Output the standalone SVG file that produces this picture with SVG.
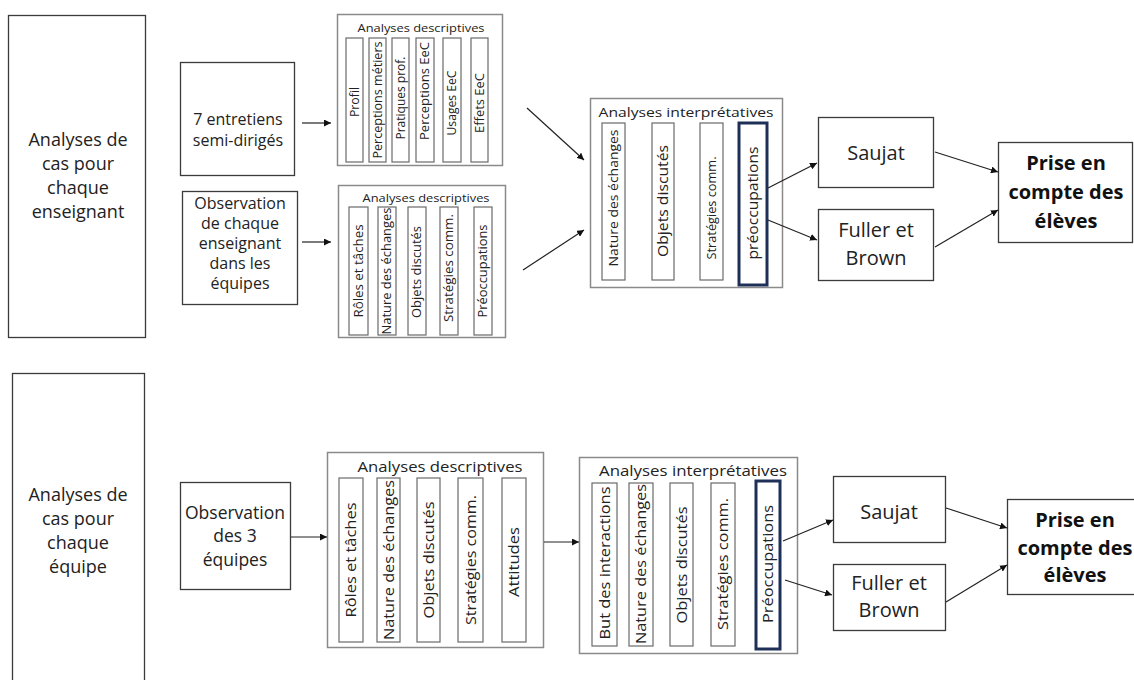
<svg xmlns="http://www.w3.org/2000/svg" width="1134" height="680" viewBox="0 0 1134 680">
<defs>
<marker id="arr" viewBox="0 0 10 10" refX="10" refY="5" markerWidth="7" markerHeight="7" markerUnits="userSpaceOnUse" orient="auto">
<path d="M0,0 L10,5 L0,10 z" fill="#111"/>
</marker>
<style>
text{font-family:"Open Sans","Noto Sans",sans-serif;fill:#222}
.node{fill:#fff;stroke:#3a3a3a;stroke-width:1.3}
.cont{fill:#fff;stroke:#8a8a8a;stroke-width:1.5}
.col{fill:#fff;stroke:#6a6a6a;stroke-width:1.2}
.hl{fill:#fff;stroke:#1f3058;stroke-width:3}
.big{font-size:18px;text-anchor:middle}
.mid{font-size:16px;text-anchor:middle}
.obs{font-size:17.5px;text-anchor:middle}
.box{font-size:20px;text-anchor:middle}
.bold{font-size:20px;font-weight:bold;text-anchor:middle;fill:#111}
.t{text-anchor:middle}
.c{text-anchor:middle}
.conn line{stroke:#222;stroke-width:1.2;marker-end:url(#arr)}
</style>
</defs>

<!-- TOP SECTION -->
<g id="case-enseignant">
<rect class="node" x="8.5" y="15.5" width="137" height="322"/>
<text class="big" x="78" y="146">Analyses de</text>
<text class="big" x="78" y="170">cas pour</text>
<text class="big" x="78" y="194">chaque</text>
<text class="big" x="78" y="218">enseignant</text>
</g>

<g id="entretiens">
<rect class="node" x="180.5" y="62.5" width="114" height="113"/>
<text class="mid" x="238" y="125">7 entretiens</text>
<text class="mid" x="238" y="146">semi-dirigés</text>
</g>

<g id="observation-enseignant">
<rect class="node" x="182.5" y="191.5" width="115" height="113"/>
<text class="mid" x="240" y="209">Observation</text>
<text class="mid" x="240" y="229">de chaque</text>
<text class="mid" x="240" y="249">enseignant</text>
<text class="mid" x="240" y="269">dans les</text>
<text class="mid" x="240" y="289">équipes</text>
</g>

<g id="desc-top-1">
<rect class="cont" x="337.5" y="14.5" width="165" height="151"/>
<text class="t" x="421" y="32" font-size="11" textLength="127" lengthAdjust="spacingAndGlyphs">Analyses descriptives</text>
<rect class="col" x="346" y="38" width="17" height="124"/>
<rect class="col" x="369" y="38" width="17" height="124"/>
<rect class="col" x="392" y="38" width="17" height="124"/>
<rect class="col" x="416" y="38" width="18" height="124"/>
<rect class="col" x="443" y="38" width="18" height="124"/>
<rect class="col" x="471" y="38" width="17" height="124"/>
<g font-size="12">
<text class="c" transform="translate(354.5,102) rotate(-90)" dy="0.35em" textLength="30" lengthAdjust="spacingAndGlyphs">Profil</text>
<text class="c" transform="translate(377.5,100) rotate(-90)" dy="0.35em" textLength="117" lengthAdjust="spacingAndGlyphs">Perceptions métiers</text>
<text class="c" transform="translate(400.5,98) rotate(-90)" dy="0.35em" textLength="83" lengthAdjust="spacingAndGlyphs">Pratiques prof.</text>
<text class="c" transform="translate(425,91) rotate(-90)" dy="0.35em" textLength="98" lengthAdjust="spacingAndGlyphs">Perceptions EeC</text>
<text class="c" transform="translate(452,103) rotate(-90)" dy="0.35em" textLength="65" lengthAdjust="spacingAndGlyphs">Usages EeC</text>
<text class="c" transform="translate(479.5,103) rotate(-90)" dy="0.35em" textLength="60" lengthAdjust="spacingAndGlyphs">Effets EeC</text>
</g>
</g>

<g id="desc-top-2">
<rect class="cont" x="338.5" y="185.5" width="167" height="152"/>
<text class="t" x="426" y="202" font-size="11" textLength="127" lengthAdjust="spacingAndGlyphs">Analyses descriptives</text>
<rect class="col" x="349" y="207" width="19" height="128"/>
<rect class="col" x="378" y="207" width="18" height="128"/>
<rect class="col" x="408" y="207" width="18" height="128"/>
<rect class="col" x="440" y="207" width="18" height="128"/>
<rect class="col" x="474" y="207" width="18" height="128"/>
<g font-size="12">
<text class="c" transform="translate(358.5,271) rotate(-90)" dy="0.35em" textLength="93" lengthAdjust="spacingAndGlyphs">Rôles et tâches</text>
<text class="c" transform="translate(387,271) rotate(-90)" dy="0.35em" textLength="127" lengthAdjust="spacingAndGlyphs">Nature des échanges</text>
<text class="c" transform="translate(417,272) rotate(-90)" dy="0.35em" textLength="92" lengthAdjust="spacingAndGlyphs">Objets discutés</text>
<text class="c" transform="translate(449,268) rotate(-90)" dy="0.35em" textLength="108" lengthAdjust="spacingAndGlyphs">Stratégies comm.</text>
<text class="c" transform="translate(483,271) rotate(-90)" dy="0.35em" textLength="93" lengthAdjust="spacingAndGlyphs">Préoccupations</text>
</g>
</g>

<g id="interp-top">
<rect class="cont" x="590.5" y="98.5" width="192" height="189"/>
<text class="t" x="686" y="117" font-size="13.5" textLength="175" lengthAdjust="spacingAndGlyphs">Analyses interprétatives</text>
<rect class="col" x="602" y="123" width="23" height="157"/>
<rect class="col" x="652" y="123" width="22" height="157"/>
<rect class="col" x="700" y="123" width="23" height="157"/>
<rect class="hl" x="739" y="123" width="28" height="162"/>
<text class="c" transform="translate(613.5,198) rotate(-90)" dy="0.35em" font-size="13" textLength="137" lengthAdjust="spacingAndGlyphs">Nature des échanges</text>
<text class="c" transform="translate(663,201) rotate(-90)" dy="0.35em" font-size="14.5" textLength="112" lengthAdjust="spacingAndGlyphs">Objets discutés</text>
<text class="c" transform="translate(711.5,208) rotate(-90)" dy="0.35em" font-size="12" textLength="103" lengthAdjust="spacingAndGlyphs">Stratégies comm.</text>
<text class="c" transform="translate(753,203) rotate(-90)" dy="0.35em" font-size="14.5" textLength="113" lengthAdjust="spacingAndGlyphs">préoccupations</text>
</g>

<g id="saujat-top">
<rect class="node" x="818.5" y="117.5" width="115" height="70"/>
<text class="box" x="876" y="160">Saujat</text>
</g>

<g id="fuller-top">
<rect class="node" x="818.5" y="209.5" width="115" height="71"/>
<text class="box" x="876" y="237">Fuller et</text>
<text class="box" x="876" y="265">Brown</text>
</g>

<g id="prise-top">
<rect class="node" x="998.5" y="142.5" width="134" height="100"/>
<text class="bold" x="1066" y="170">Prise en</text>
<text class="bold" x="1066" y="199">compte des</text>
<text class="bold" x="1066" y="228">élèves</text>
</g>

<!-- BOTTOM SECTION -->
<g id="case-equipe">
<rect class="node" x="12.5" y="373.5" width="132" height="320"/>
<text class="big" x="78" y="501">Analyses de</text>
<text class="big" x="78" y="525">cas pour</text>
<text class="big" x="78" y="549">chaque</text>
<text class="big" x="78" y="573">équipe</text>
</g>

<g id="observation-equipes">
<rect class="node" x="180.5" y="482.5" width="110" height="107"/>
<text class="obs" x="235" y="519">Observation</text>
<text class="obs" x="235" y="542">des 3</text>
<text class="obs" x="235" y="566">équipes</text>
</g>

<g id="desc-bottom">
<rect class="cont" x="327.5" y="452.5" width="216" height="195"/>
<text class="t" x="440" y="472" font-size="15" textLength="165" lengthAdjust="spacingAndGlyphs">Analyses descriptives</text>
<rect class="col" x="339" y="478" width="24" height="164"/>
<rect class="col" x="377" y="478" width="23" height="164"/>
<rect class="col" x="417" y="478" width="23" height="164"/>
<rect class="col" x="458" y="478" width="25" height="164"/>
<rect class="col" x="502" y="478" width="24" height="164"/>
<g font-size="14.5">
<text class="c" transform="translate(351,560) rotate(-90)" dy="0.35em" textLength="115" lengthAdjust="spacingAndGlyphs">Rôles et tâches</text>
<text class="c" transform="translate(388.5,560) rotate(-90)" dy="0.35em" textLength="160" lengthAdjust="spacingAndGlyphs">Nature des échanges</text>
<text class="c" transform="translate(428.5,560) rotate(-90)" dy="0.35em" textLength="117" lengthAdjust="spacingAndGlyphs">Objets discutés</text>
<text class="c" transform="translate(470.5,560) rotate(-90)" dy="0.35em" textLength="130" lengthAdjust="spacingAndGlyphs">Stratégies comm.</text>
<text class="c" transform="translate(514,562) rotate(-90)" dy="0.35em" textLength="70" lengthAdjust="spacingAndGlyphs">Attitudes</text>
</g>
</g>

<g id="interp-bottom">
<rect class="cont" x="579.5" y="457.5" width="218" height="196"/>
<text class="t" x="693" y="476" font-size="15" textLength="188" lengthAdjust="spacingAndGlyphs">Analyses interprétatives</text>
<rect class="col" x="592" y="483" width="25" height="163"/>
<rect class="col" x="629" y="483" width="24" height="163"/>
<rect class="col" x="670" y="483" width="23" height="163"/>
<rect class="col" x="711" y="483" width="24" height="163"/>
<rect class="hl" x="756" y="481" width="24" height="168"/>
<g font-size="14.5">
<text class="c" transform="translate(604.5,563) rotate(-90)" dy="0.35em" textLength="153" lengthAdjust="spacingAndGlyphs">But des interactions</text>
<text class="c" transform="translate(641,564) rotate(-90)" dy="0.35em" textLength="160" lengthAdjust="spacingAndGlyphs">Nature des échanges</text>
<text class="c" transform="translate(681.5,565) rotate(-90)" dy="0.35em" textLength="117" lengthAdjust="spacingAndGlyphs">Objets discutés</text>
<text class="c" transform="translate(723,564) rotate(-90)" dy="0.35em" textLength="132" lengthAdjust="spacingAndGlyphs">Stratégies comm.</text>
<text class="c" transform="translate(768,564) rotate(-90)" dy="0.35em" textLength="118" lengthAdjust="spacingAndGlyphs">Préoccupations</text>
</g>
</g>

<g id="saujat-bottom">
<rect class="node" x="833.5" y="476.5" width="112" height="66"/>
<text class="box" x="889" y="519">Saujat</text>
</g>

<g id="fuller-bottom">
<rect class="node" x="833.5" y="564.5" width="112" height="66"/>
<text class="box" x="889" y="590">Fuller et</text>
<text class="box" x="889" y="617">Brown</text>
</g>

<g id="prise-bottom">
<rect class="node" x="1007.5" y="499.5" width="128" height="95"/>
<text class="bold" x="1075" y="527">Prise en</text>
<text class="bold" x="1075" y="555">compte des</text>
<text class="bold" x="1075" y="582">élèves</text>
</g>

<g id="connectors" class="conn">
<line x1="302" y1="123" x2="331" y2="123"/>
<line x1="302" y1="242" x2="331" y2="242"/>
<line x1="527" y1="108" x2="584" y2="160"/>
<line x1="523" y1="270" x2="584" y2="230"/>
<line x1="768" y1="188" x2="817" y2="163"/>
<line x1="768" y1="220" x2="817" y2="240"/>
<line x1="935" y1="152" x2="998" y2="172"/>
<line x1="935" y1="247" x2="998" y2="210"/>
<line x1="291" y1="537" x2="327" y2="537"/>
<line x1="544" y1="542" x2="579" y2="542"/>
<line x1="783" y1="541" x2="833" y2="520"/>
<line x1="785" y1="580" x2="832" y2="595"/>
<line x1="946" y1="508" x2="1007" y2="528"/>
<line x1="946" y1="602" x2="1007" y2="565"/>
</g>
</svg>
